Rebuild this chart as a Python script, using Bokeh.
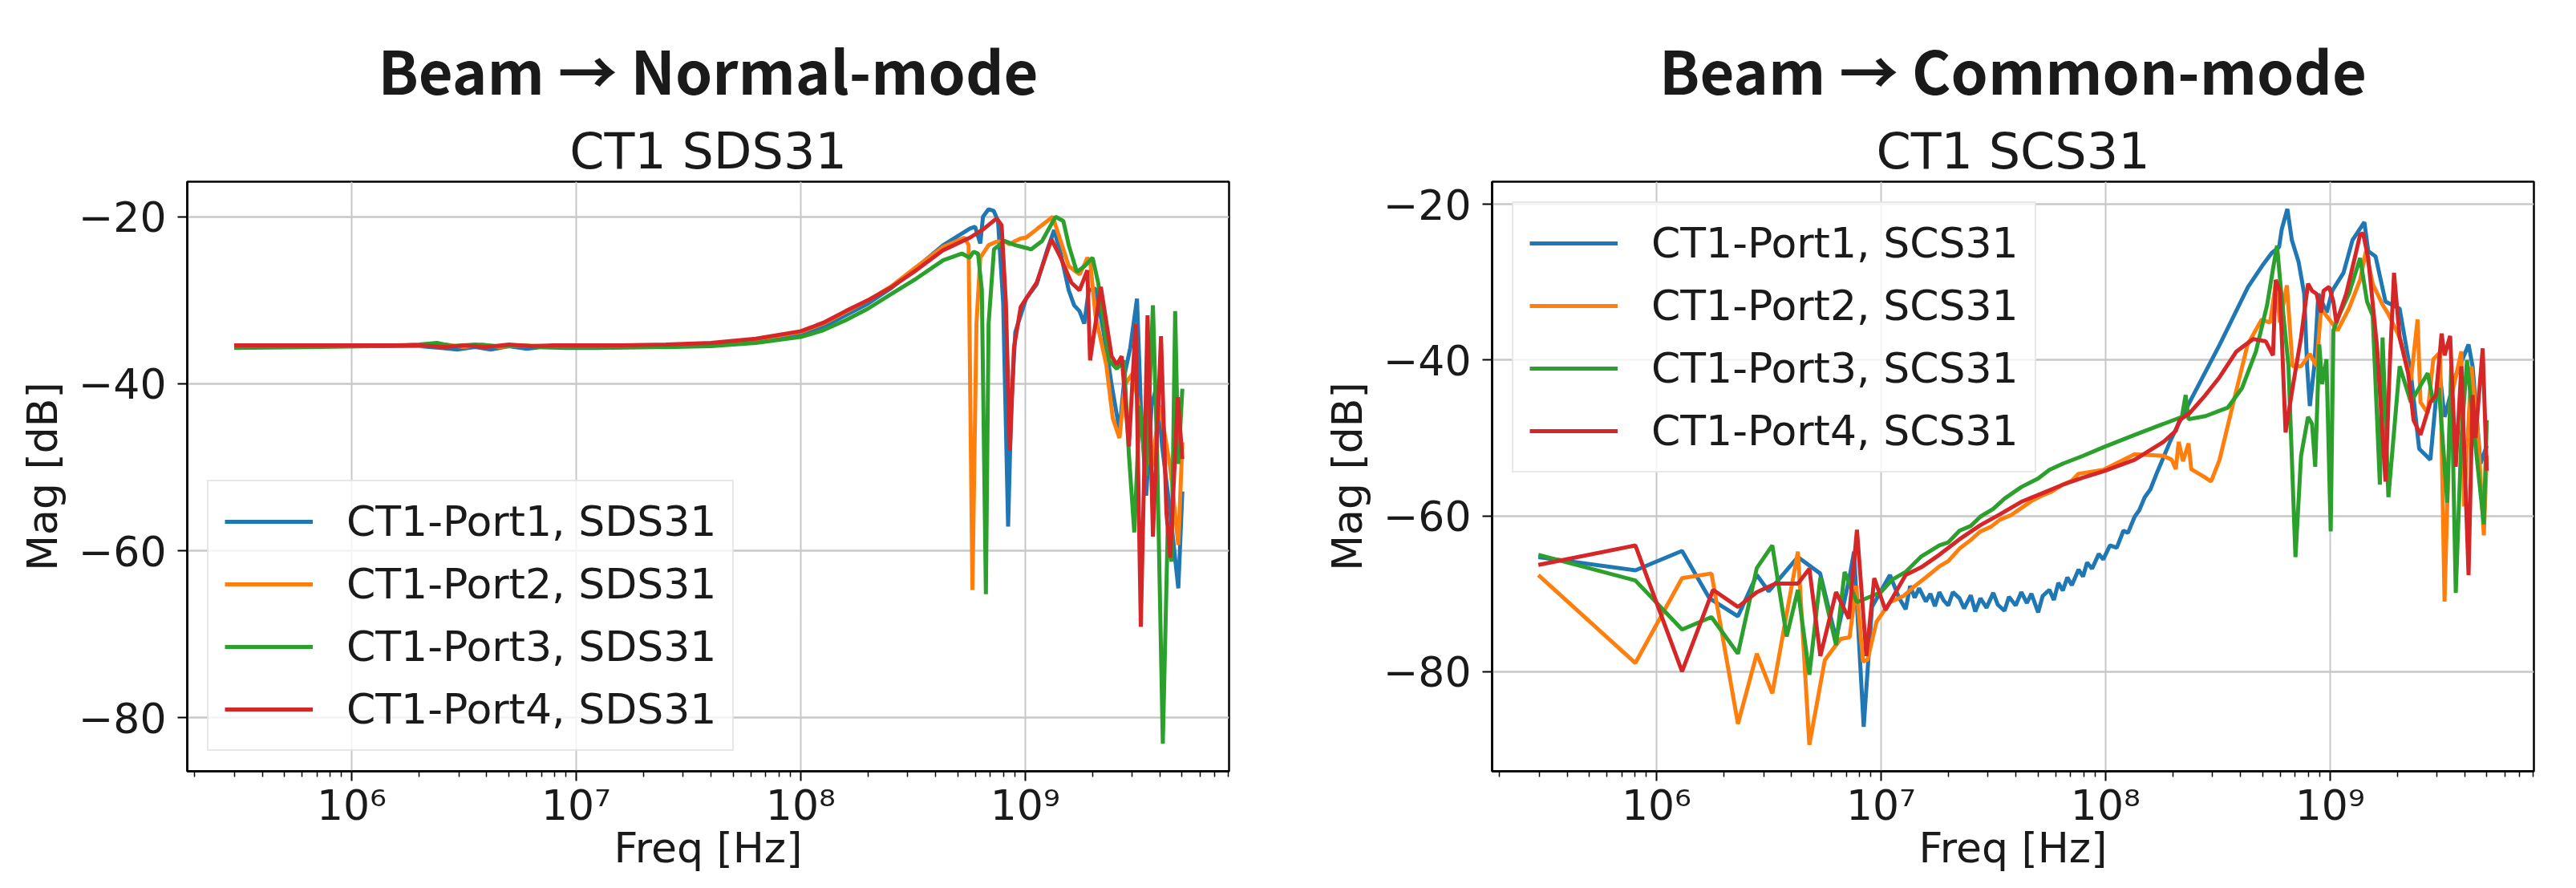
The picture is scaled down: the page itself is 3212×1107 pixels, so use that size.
import numpy as np
from bokeh.plotting import figure
from bokeh.models import (Range1d, FixedTicker, CustomJSTickFormatter, Title,
                          Legend, LegendItem)
from bokeh.layouts import row
from bokeh.embed import file_html
from bokeh.resources import INLINE

# ---------------- data: (log10 of frequency in Hz, magnitude dB) ----------------
sds31_port1 = [(5.477,-35.5),(5.8,-35.5),(6.1,-35.5),(6.3,-35.5),(6.4,-35.7),(6.47,-35.9),(6.55,-35.6),
    (6.62,-35.9),(6.7,-35.5),(6.78,-35.8),(6.85,-35.6),(6.95,-35.7),(7.1,-35.7),(7.3,-35.6),(7.5,-35.5),
    (7.7,-35.2),(7.85,-34.8),(8.0,-34.2),(8.1,-33.2),(8.2,-31.8),(8.3,-30.4),(8.4,-28.6),(8.515,-26.1),
    (8.635,-23.4),(8.754,-21.4),(8.777,-21.2),(8.80,-23.2),(8.812,-20.0),(8.837,-19.1),(8.86,-19.3),
    (8.879,-20.5),(8.902,-30.3),(8.924,-57.1),(8.938,-42.6),(8.956,-33.8),(9.004,-29.8),(9.051,-28.1),
    (9.099,-23.9),(9.129,-21.6),(9.158,-24.4),(9.194,-28.8),(9.218,-30.6),(9.242,-31.3),(9.263,-32.8),
    (9.283,-28.8),(9.313,-28.6),(9.349,-33.8),(9.385,-40.1),(9.42,-45.6),(9.444,-38.7),(9.468,-35.7),
    (9.498,-29.8),(9.515,-42.6),(9.539,-53.4),(9.563,-42.6),(9.587,-40.1),(9.61,-47.5),(9.646,-55.4),
    (9.682,-64.5),(9.70,-52.9)]
sds31_port2 = [(5.477,-35.4),(5.8,-35.4),(6.1,-35.4),(6.3,-35.5),(6.42,-35.3),(6.5,-35.6),(6.58,-35.3),
    (6.66,-35.6),(6.75,-35.4),(6.85,-35.5),(7.0,-35.5),(7.2,-35.5),(7.4,-35.4),(7.6,-35.2),(7.8,-34.7),
    (8.0,-33.8),(8.1,-32.8),(8.2,-31.4),(8.3,-30.0),(8.4,-28.4),(8.515,-26.0),(8.635,-23.6),(8.73,-22.5),
    (8.748,-23.4),(8.765,-64.7),(8.783,-32.8),(8.80,-24.9),(8.837,-23.4),(8.87,-23.0),(8.908,-22.9),
    (8.93,-23.3),(8.956,-22.9),(8.98,-22.6),(9.004,-22.5),(9.051,-21.5),(9.123,-20.0),(9.158,-22.9),
    (9.194,-25.9),(9.242,-26.9),(9.266,-25.6),(9.277,-24.9),(9.29,-25.5),(9.313,-31.8),(9.361,-37.7),
    (9.39,-44.1),(9.42,-46.5),(9.444,-40.1),(9.48,-38.7),(9.527,-46.0),(9.563,-50.0),(9.6,-42.6),
    (9.646,-50.0),(9.682,-59.3),(9.70,-47.0)]
sds31_port3 = [(5.477,-35.7),(5.8,-35.6),(6.1,-35.5),(6.3,-35.3),(6.38,-35.1),(6.45,-35.5),(6.55,-35.3),
    (6.65,-35.5),(6.75,-35.4),(6.85,-35.6),(7.0,-35.6),(7.2,-35.6),(7.4,-35.6),(7.6,-35.5),(7.8,-35.1),
    (8.0,-34.4),(8.1,-33.6),(8.2,-32.4),(8.3,-31.0),(8.4,-29.3),(8.515,-27.4),(8.635,-25.2),(8.718,-24.4),
    (8.752,-24.9),(8.77,-24.2),(8.79,-24.4),(8.807,-28.8),(8.825,-65.2),(8.837,-32.8),(8.861,-23.9),
    (8.908,-22.9),(8.956,-23.4),(9.0,-23.7),(9.027,-23.9),(9.075,-22.9),(9.135,-20.0),(9.17,-20.5),
    (9.194,-23.4),(9.23,-26.6),(9.265,-25.9),(9.30,-24.9),(9.325,-27.9),(9.373,-37.2),(9.408,-38.2),
    (9.44,-37.2),(9.462,-48.5),(9.486,-57.8),(9.51,-42.6),(9.539,-51.0),(9.569,-30.6),(9.587,-47.5),
    (9.613,-83.1),(9.635,-57.3),(9.652,-61.3),(9.668,-31.3),(9.682,-49.6),(9.70,-40.6)]
sds31_port4 = [(5.477,-35.4),(5.8,-35.4),(6.1,-35.4),(6.3,-35.4),(6.42,-35.6),(6.5,-35.4),(6.6,-35.6),
    (6.7,-35.3),(6.8,-35.5),(6.9,-35.4),(7.0,-35.4),(7.2,-35.4),(7.4,-35.3),(7.6,-35.1),(7.8,-34.6),
    (8.0,-33.7),(8.1,-32.7),(8.2,-31.3),(8.3,-30.0),(8.4,-28.5),(8.515,-26.4),(8.635,-24.0),(8.754,-22.5),
    (8.813,-21.5),(8.873,-20.2),(8.895,-21.0),(8.914,-30.3),(8.932,-48.0),(8.95,-35.7),(8.98,-30.8),
    (9.051,-27.9),(9.117,-22.7),(9.158,-24.9),(9.206,-27.9),(9.242,-28.8),(9.277,-26.4),(9.289,-37.2),
    (9.337,-28.4),(9.385,-36.7),(9.408,-37.7),(9.43,-36.7),(9.462,-47.5),(9.492,-32.8),(9.515,-69.1),
    (9.545,-31.8),(9.569,-58.3),(9.605,-34.3),(9.629,-55.4),(9.646,-60.8),(9.68,-41.6),(9.70,-49.0)]

scs31_port1 = [(5.474,-65.3),(5.906,-67.0),(6.114,-64.5),(6.236,-70.6),(6.363,-72.9),(6.447,-67.6),
    (6.50,-69.7),(6.63,-65.3),(6.729,-67.4),(6.80,-75.8),(6.857,-68.3),(6.88,-64.6),(6.923,-87.1),
    (6.96,-71.7),(7.04,-67.6),(7.08,-70.5),(7.11,-72.0),(7.13,-69.0),(7.15,-70.5),(7.17,-69.3),
    (7.2,-71.0),(7.22,-70.0),(7.24,-71.6),(7.26,-69.8),(7.28,-70.9),(7.3,-71.5),(7.32,-69.8),(7.35,-70.6),
    (7.37,-71.9),(7.4,-70.2),(7.42,-72.3),(7.443,-70.6),(7.47,-71.8),(7.5,-69.9),(7.52,-71.4),(7.55,-72.2),
    (7.57,-70.4),(7.6,-71.5),(7.625,-69.8),(7.65,-71.2),(7.67,-70.0),(7.70,-72.4),(7.72,-70.3),(7.75,-69.5),
    (7.77,-70.8),(7.79,-68.6),(7.81,-69.6),(7.83,-67.9),(7.85,-68.9),(7.88,-66.9),(7.9,-67.8),(7.918,-66.0),
    (7.94,-66.8),(7.97,-64.9),(7.99,-65.6),(8.02,-63.8),(8.05,-64.1),(8.08,-61.9),(8.10,-62.2),(8.13,-60.1),
    (8.15,-59.3),(8.175,-57.6),(8.2,-56.6),(8.23,-54.4),(8.258,-52.5),(8.29,-50.3),(8.32,-48.5),
    (8.384,-44.9),(8.509,-38.0),(8.635,-30.6),(8.698,-27.9),(8.742,-26.2),
    (8.773,-25.5),(8.785,-23.2),(8.81,-20.6),(8.83,-24.6),(8.86,-27.4),(8.885,-31.5),(8.898,-40.8),
    (8.91,-45.9),(8.93,-40.8),(8.948,-31.5),(8.985,-33.9),(9.01,-31.1),(9.06,-28.8),(9.10,-24.6),
    (9.153,-22.3),(9.17,-26.0),(9.203,-26.7),(9.247,-32.5),(9.31,-33.4),(9.36,-41.7),(9.397,-51.4),
    (9.447,-52.8),(9.485,-40.8),(9.51,-47.3),(9.56,-42.0),(9.617,-38.0),(9.635,-40.8),(9.67,-53.3),
    (9.698,-51.0)]
scs31_port2 = [(5.474,-67.6),(5.906,-78.9),(6.114,-68.0),(6.245,-67.4),(6.363,-86.7),(6.447,-77.7),
    (6.516,-82.8),(6.63,-64.6),(6.681,-89.4),(6.75,-78.5),(6.82,-75.8),(6.86,-75.6),(6.89,-69.0),
    (6.92,-78.7),(6.94,-78.5),(6.98,-73.6),(7.04,-71.1),(7.1,-70.3),(7.147,-69.1),(7.2,-67.9),(7.26,-66.5),
    (7.3,-65.8),(7.35,-64.2),(7.4,-63.1),(7.443,-62.0),(7.49,-61.4),(7.53,-60.5),(7.58,-59.9),(7.625,-59.0),
    (7.67,-58.1),(7.71,-57.5),(7.76,-56.9),(7.81,-56.0),(7.85,-55.5),(7.88,-54.6),(7.99,-54.1),
    (8.13,-52.1),(8.258,-52.3),(8.295,-52.8),(8.313,-54.0),(8.326,-50.5),(8.345,-53.0),(8.37,-50.7),
    (8.382,-54.0),(8.445,-55.1),(8.47,-55.6),(8.508,-52.8),(8.57,-45.4),(8.633,-38.0),(8.696,-34.8),
    (8.733,-35.2),(8.758,-30.2),(8.777,-35.2),(8.808,-30.4),(8.833,-40.8),(8.871,-40.8),(8.91,-39.2),
    (8.94,-40.8),(8.96,-33.4),(9.034,-36.2),(9.084,-33.4),(9.134,-29.7),(9.16,-26.0),(9.19,-30.2),
    (9.234,-32.9),(9.26,-34.1),(9.31,-37.1),(9.36,-42.6),(9.39,-34.8),(9.403,-45.4),(9.435,-46.8),
    (9.46,-39.9),(9.49,-39.0),(9.51,-71.0),(9.535,-45.4),(9.585,-38.9),(9.597,-58.8),(9.63,-40.8),
    (9.66,-50.0),(9.685,-62.5),(9.698,-52.3)]
scs31_port3 = [(5.474,-65.0),(5.906,-68.3),(6.114,-74.6),(6.245,-73.0),(6.363,-77.7),(6.447,-66.7),
    (6.516,-63.8),(6.58,-75.5),(6.63,-69.5),(6.681,-80.4),(6.73,-67.9),(6.80,-76.6),(6.838,-67.2),
    (6.893,-71.1),(7.0,-69.8),(7.05,-68.2),(7.11,-67.2),(7.18,-65.2),(7.26,-63.8),(7.3,-63.4),(7.35,-61.9),
    (7.4,-61.3),(7.443,-60.1),(7.5,-59.1),(7.55,-57.8),(7.625,-56.3),(7.7,-55.2),(7.75,-54.1),(7.81,-53.3),
    (7.9,-52.3),(7.99,-51.2),(8.13,-49.6),(8.258,-48.2),(8.34,-47.3),(8.357,-44.5),(8.37,-47.6),(8.445,-47.2),
    (8.545,-46.1),(8.608,-43.6),(8.67,-38.9),(8.72,-32.9),(8.746,-28.3),(8.764,-25.3),(8.783,-31.5),
    (8.815,-40.8),(8.846,-65.3),(8.871,-52.3),(8.902,-47.3),(8.92,-48.2),(8.934,-53.7),(8.952,-38.0),
    (8.965,-43.1),(8.984,-39.9),(9.003,-62.0),(9.015,-36.2),(9.04,-34.3),(9.084,-31.5),(9.134,-26.9),
    (9.165,-32.5),(9.19,-34.3),(9.222,-56.0),(9.234,-37.1),(9.26,-57.6),(9.31,-40.8),(9.36,-45.4),
    (9.435,-41.7),(9.46,-45.4),(9.485,-43.6),(9.522,-58.3),(9.54,-40.8),(9.56,-69.9),(9.585,-50.0),
    (9.61,-40.0),(9.648,-51.0),(9.685,-61.1),(9.698,-47.7)]
scs31_port4 = [(5.474,-66.3),(5.906,-63.8),(6.114,-80.0),(6.252,-69.5),(6.363,-71.7),(6.447,-69.8),
    (6.53,-68.7),(6.63,-68.7),(6.681,-66.8),(6.73,-78.0),(6.80,-69.8),(6.857,-73.2),(6.893,-61.8),
    (6.935,-78.0),(6.97,-68.0),(7.02,-72.1),(7.11,-67.6),(7.18,-66.6),(7.26,-65.0),(7.35,-63.0),
    (7.443,-61.2),(7.53,-59.8),(7.625,-58.2),(7.71,-57.2),(7.81,-56.0),(7.9,-55.1),(7.99,-54.3),
    (8.13,-52.8),(8.258,-50.5),(8.313,-49.1),(8.33,-47.7),(8.375,-46.8),
    (8.445,-44.5),(8.508,-42.2),(8.583,-38.9),(8.658,-37.3),(8.714,-37.6),(8.746,-39.4),(8.758,-29.7),
    (8.777,-31.1),(8.802,-49.3),(8.833,-43.6),(8.871,-37.1),(8.902,-30.2),(8.92,-31.1),(8.94,-31.5),
    (8.96,-33.9),(8.971,-31.1),(8.996,-30.6),(9.015,-32.5),(9.028,-35.2),(9.072,-31.5),(9.11,-26.9),
    (9.134,-23.9),(9.147,-23.7),(9.17,-26.9),(9.21,-38.5),(9.247,-55.6),(9.266,-40.8),(9.285,-28.8),
    (9.31,-37.1),(9.348,-41.7),(9.372,-47.7),(9.403,-49.6),(9.447,-45.4),(9.472,-44.5),(9.497,-36.6),
    (9.51,-39.4),(9.535,-36.9),(9.56,-53.7),(9.585,-40.8),(9.617,-67.6),(9.635,-44.5),(9.648,-50.0),
    (9.68,-38.5),(9.698,-54.2)]

sds_labels = ["CT1-Port1, SDS31", "CT1-Port2, SDS31", "CT1-Port3, SDS31", "CT1-Port4, SDS31"]
scs_labels = ["CT1-Port1, SCS31", "CT1-Port2, SCS31", "CT1-Port3, SCS31", "CT1-Port4, SCS31"]
x_major_ticks = [1e6, 1e7, 1e8, 1e9]
y_major_ticks = [-80, -60, -40, -20]

COLORS = ["#1f77b4", "#ff7f0e", "#2ca02c", "#d62728"]
FONT = "DejaVu Sans"
X_LO, X_HI = 10 ** 5.268, 10 ** 9.908
minor = [m * 10.0 ** e for e in range(5, 10) for m in range(2, 10)]
minor = [v for v in minor if X_LO <= v <= X_HI]

xfmt = CustomJSTickFormatter(code="""
const e = Math.round(Math.log10(tick));
const sup = {"0":"\u2070","1":"\u00b9","2":"\u00b2","3":"\u00b3","4":"\u2074","5":"\u2075","6":"\u2076","7":"\u2077","8":"\u2078","9":"\u2079","-":"\u207b"};
return "10" + String(e).split("").map(c => sup[c]).join("");
""")
yfmt = CustomJSTickFormatter(code="""
return tick < 0 ? "\u2212" + Math.abs(tick) : String(tick);
""")


def build(suptitle, subtitle, series, labels, y_lo, y_hi, legend_loc, width,
          mbl, mbr, mbt, mbb):
    p = figure(width=width, height=1091, x_axis_type="log", output_backend="svg",
               toolbar_location=None, x_range=Range1d(X_LO, X_HI),
               y_range=Range1d(y_lo, y_hi),
               min_border_left=mbl, min_border_right=mbr,
               min_border_top=mbt, min_border_bottom=mbb)
    p.background_fill_color = "white"
    p.border_fill_color = "white"
    p.outline_line_color = "black"
    p.outline_line_width = 2.5

    renderers = []
    for (pts, c) in zip(series, COLORS):
        xs = [10 ** a for a, _ in pts]
        ys = [b for _, b in pts]
        r = p.line(xs, ys, line_color=c, line_width=5)
        renderers.append(r)

    # axes
    p.xaxis.ticker = FixedTicker(ticks=x_major_ticks, minor_ticks=minor)
    p.yaxis.ticker = FixedTicker(ticks=y_major_ticks)
    p.xaxis.formatter = xfmt
    p.yaxis.formatter = yfmt
    for ax in (p.xaxis, p.yaxis):
        ax.major_label_text_font = FONT
        ax.major_label_text_font_size = "52px"
        ax.major_label_text_color = "#1a1a1a"
        ax.axis_label_text_font = FONT
        ax.axis_label_text_font_size = "52px"
        ax.axis_label_text_font_style = "normal"
        ax.axis_label_text_color = "#1a1a1a"
        ax.axis_line_color = "black"
        ax.axis_line_width = 2.5
        ax.major_tick_in = 0
        ax.major_tick_out = 12
        ax.major_tick_line_width = 2
        ax.minor_tick_in = 0
        ax.minor_tick_out = 7
        ax.minor_tick_line_width = 1.5
    p.xaxis.axis_label = "Freq [Hz]"
    p.yaxis.axis_label = "Mag [dB]"
    p.yaxis.major_label_standoff = 14
    p.xaxis.major_label_standoff = 0
    p.yaxis.axis_label_standoff = 12
    p.xaxis.axis_label_standoff = -10

    p.xgrid.grid_line_color = "#c8c8c8"
    p.xgrid.grid_line_width = 2
    p.ygrid.grid_line_color = "#c8c8c8"
    p.ygrid.grid_line_width = 2.5

    # titles: outer (figure-level) title first, then the axes title nearest the frame
    p.title.text = suptitle
    p.title.text_font = "Noto Sans CJK KR"
    p.title.text_font_size = "74px"
    p.title.text_font_style = "bold"
    p.title.text_color = "#1a1a1a"
    p.title.align = "center"
    p.title.standoff = 18
    p.add_layout(Title(text=subtitle, text_font=FONT, text_font_size="62px",
                       text_font_style="normal", text_color="#1a1a1a", align="center",
                       standoff=4), "above")

    legend = Legend(items=[LegendItem(label=l, renderers=[r]) for l, r in zip(labels, renderers)],
                    location=legend_loc, margin=25, padding=20, spacing=18,
                    glyph_width=110, glyph_height=60, label_height=60, label_standoff=42,
                    label_text_font=FONT, label_text_font_size="52px",
                    label_text_color="#1a1a1a",
                    border_line_color="#d0d0d0", border_line_width=2,
                    background_fill_color="white", background_fill_alpha=0.8)
    p.add_layout(legend)
    return p


p1 = build("Beam \u2192 Normal-mode", "CT1 SDS31",
           [sds31_port1, sds31_port2, sds31_port3, sds31_port4], sds_labels,
           -86.4, -15.8, "bottom_left", 1627, 233, 95, 222, 130)
p2 = build("Beam \u2192 Common-mode", "CT1 SCS31",
           [scs31_port1, scs31_port2, scs31_port3, scs31_port4], scs_labels,
           -92.8, -17.1, "top_left", 1565, 233, 33, 226, 129)

layout = row(p1, p2)
open("out.html", "w").write(file_html(layout, INLINE))
